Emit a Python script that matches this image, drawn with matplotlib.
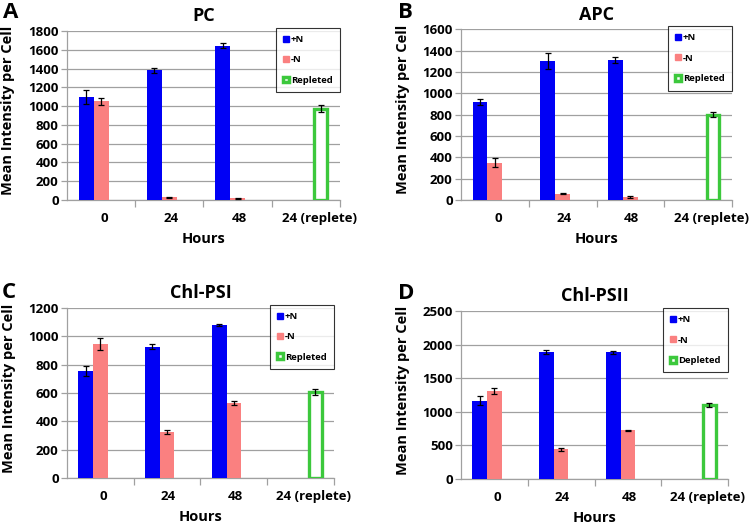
import matplotlib
matplotlib.use('Agg')
import matplotlib.pyplot as plt
from matplotlib.patches import Patch

plt.rcParams['font.family'] = ['Open Sans', 'DejaVu Sans']
plt.rcParams['font.weight'] = 'bold'

hours = ['0', '24', '48', '24 (replete)']

# panel A: PC
pc_plus = [1100, 1380, 1645]
pc_plus_err = [75, 30, 30]
pc_minus = [1052, 30, 20]
pc_minus_err = [38, 5, 5]
pc_rep = 972
pc_rep_err = 35

# panel B: APC
apc_plus = [918, 1300, 1310]
apc_plus_err = [30, 75, 30]
apc_minus = [350, 60, 25]
apc_minus_err = [45, 5, 10]
apc_rep = 800
apc_rep_err = 25

# panel C: Chl-PSI
psi_plus = [752, 928, 1080]
psi_plus_err = [35, 15, 10]
psi_minus = [945, 322, 527]
psi_minus_err = [45, 15, 15]
psi_rep = 605
psi_rep_err = 20

# panel D: Chl-PSII
psii_plus = [1165, 1885, 1885]
psii_plus_err = [65, 30, 20]
psii_minus = [1312, 440, 725]
psii_minus_err = [40, 20, 10]
psii_rep = 1105
psii_rep_err = 30

panels = [
    ('A', 'PC', pc_plus, pc_plus_err, pc_minus, pc_minus_err, pc_rep, pc_rep_err, 1800, 200, 'Repleted'),
    ('B', 'APC', apc_plus, apc_plus_err, apc_minus, apc_minus_err, apc_rep, apc_rep_err, 1600, 200, 'Repleted'),
    ('C', 'Chl-PSI', psi_plus, psi_plus_err, psi_minus, psi_minus_err, psi_rep, psi_rep_err, 1200, 200, 'Repleted'),
    ('D', 'Chl-PSII', psii_plus, psii_plus_err, psii_minus, psii_minus_err, psii_rep, psii_rep_err, 2500, 500, 'Depleted'),
]

# axes rectangles in figure fractions
rects = [
    [0.0893, 0.6205, 0.364, 0.3207],
    [0.6147, 0.6205, 0.3613, 0.3239],
    [0.0893, 0.0930, 0.356, 0.3226],
    [0.6147, 0.0911, 0.356, 0.3188],
]
# panel letter positions (pixels from top-left, baseline)
letter_pos = [(3, 18), (398, 18), (2, 298), (398, 299)]

blue = '#0000F5'
pink = '#FA8080'
green = '#3CC83C'
grid_col = '#A0A0A0'
w = 0.22
W, H = 750, 527

fig = plt.figure(figsize=(7.5, 5.27), dpi=100)

for (letter, title, plus, plus_err, minus, minus_err, rep, rep_err, ymax, step, rep_label), rect, lp in zip(panels, rects, letter_pos):
    ax = fig.add_axes(rect)
    x = list(range(3))
    ekw = dict(elinewidth=0.9, capthick=0.9, ecolor='black')
    ax.bar([i - w for i in x], plus, w, color=blue, zorder=3,
           yerr=plus_err, capsize=2.4, error_kw=ekw)
    ax.bar(x, minus, w, color=pink, zorder=3,
           yerr=minus_err, capsize=2.4, error_kw=ekw)
    ax.bar([3 + w], [rep], w * 0.85, facecolor='white', edgecolor=green, linewidth=2.4, zorder=3,
           yerr=[rep_err], capsize=2.4, error_kw=ekw)

    ax.set_xlim(-0.5, 3.5)
    ax.set_ylim(0, ymax)
    ax.set_yticks(range(0, ymax + 1, step))
    ax.yaxis.grid(True, color=grid_col, linewidth=0.9, zorder=0)
    ax.set_axisbelow(True)
    for s in ['top', 'right']:
        ax.spines[s].set_visible(False)
    for s in ['left', 'bottom']:
        ax.spines[s].set_color(grid_col)
        ax.spines[s].set_linewidth(0.9)

    ax.set_xticks([0.05, 1.02, 2.02, 3.2])
    ax.set_xticklabels(hours, fontsize=9.5, fontweight='bold')
    ax.tick_params(axis='x', length=0, pad=9)
    ax.set_xticks([0.5, 1.5, 2.5, 3.5], minor=True)
    ax.tick_params(axis='x', which='minor', length=5, color=grid_col, width=0.9)
    ax.tick_params(axis='y', length=4, color=grid_col, width=0.9, labelsize=9.5, pad=2)
    for lab in ax.get_yticklabels():
        lab.set_fontweight('bold')

    ax.set_xlabel('Hours', fontsize=10.5, fontweight='bold', labelpad=5)
    ax.set_ylabel('Mean Intensity per Cell', fontsize=10.5, fontweight='bold')
    ax.yaxis.set_label_coords(-0.19, 0.53)
    ax.set_title(title, fontsize=13, fontweight='bold', pad=7)
    fig.text(lp[0] / W, 1 - lp[1] / H, letter, fontsize=16, fontweight='bold',
             va='baseline', ha='left')

    handles = [Patch(facecolor=blue, edgecolor=blue),
               Patch(facecolor=pink, edgecolor=pink),
               Patch(facecolor='white', edgecolor=green, linewidth=2.5)]
    leg = ax.legend(handles, ['+N', '-N', rep_label], loc='upper right', bbox_to_anchor=(1.0, 1.02),
                    borderaxespad=0, fontsize=6.8, frameon=True, fancybox=False, edgecolor='black',
                    handlelength=0.6, handleheight=0.6, handletextpad=0.2, labelspacing=1.2,
                    borderpad=0.8)
    leg.get_frame().set_linewidth(0.8)
    for t in leg.get_texts():
        t.set_fontweight('bold')

fig.savefig('out.png', dpi=100)
